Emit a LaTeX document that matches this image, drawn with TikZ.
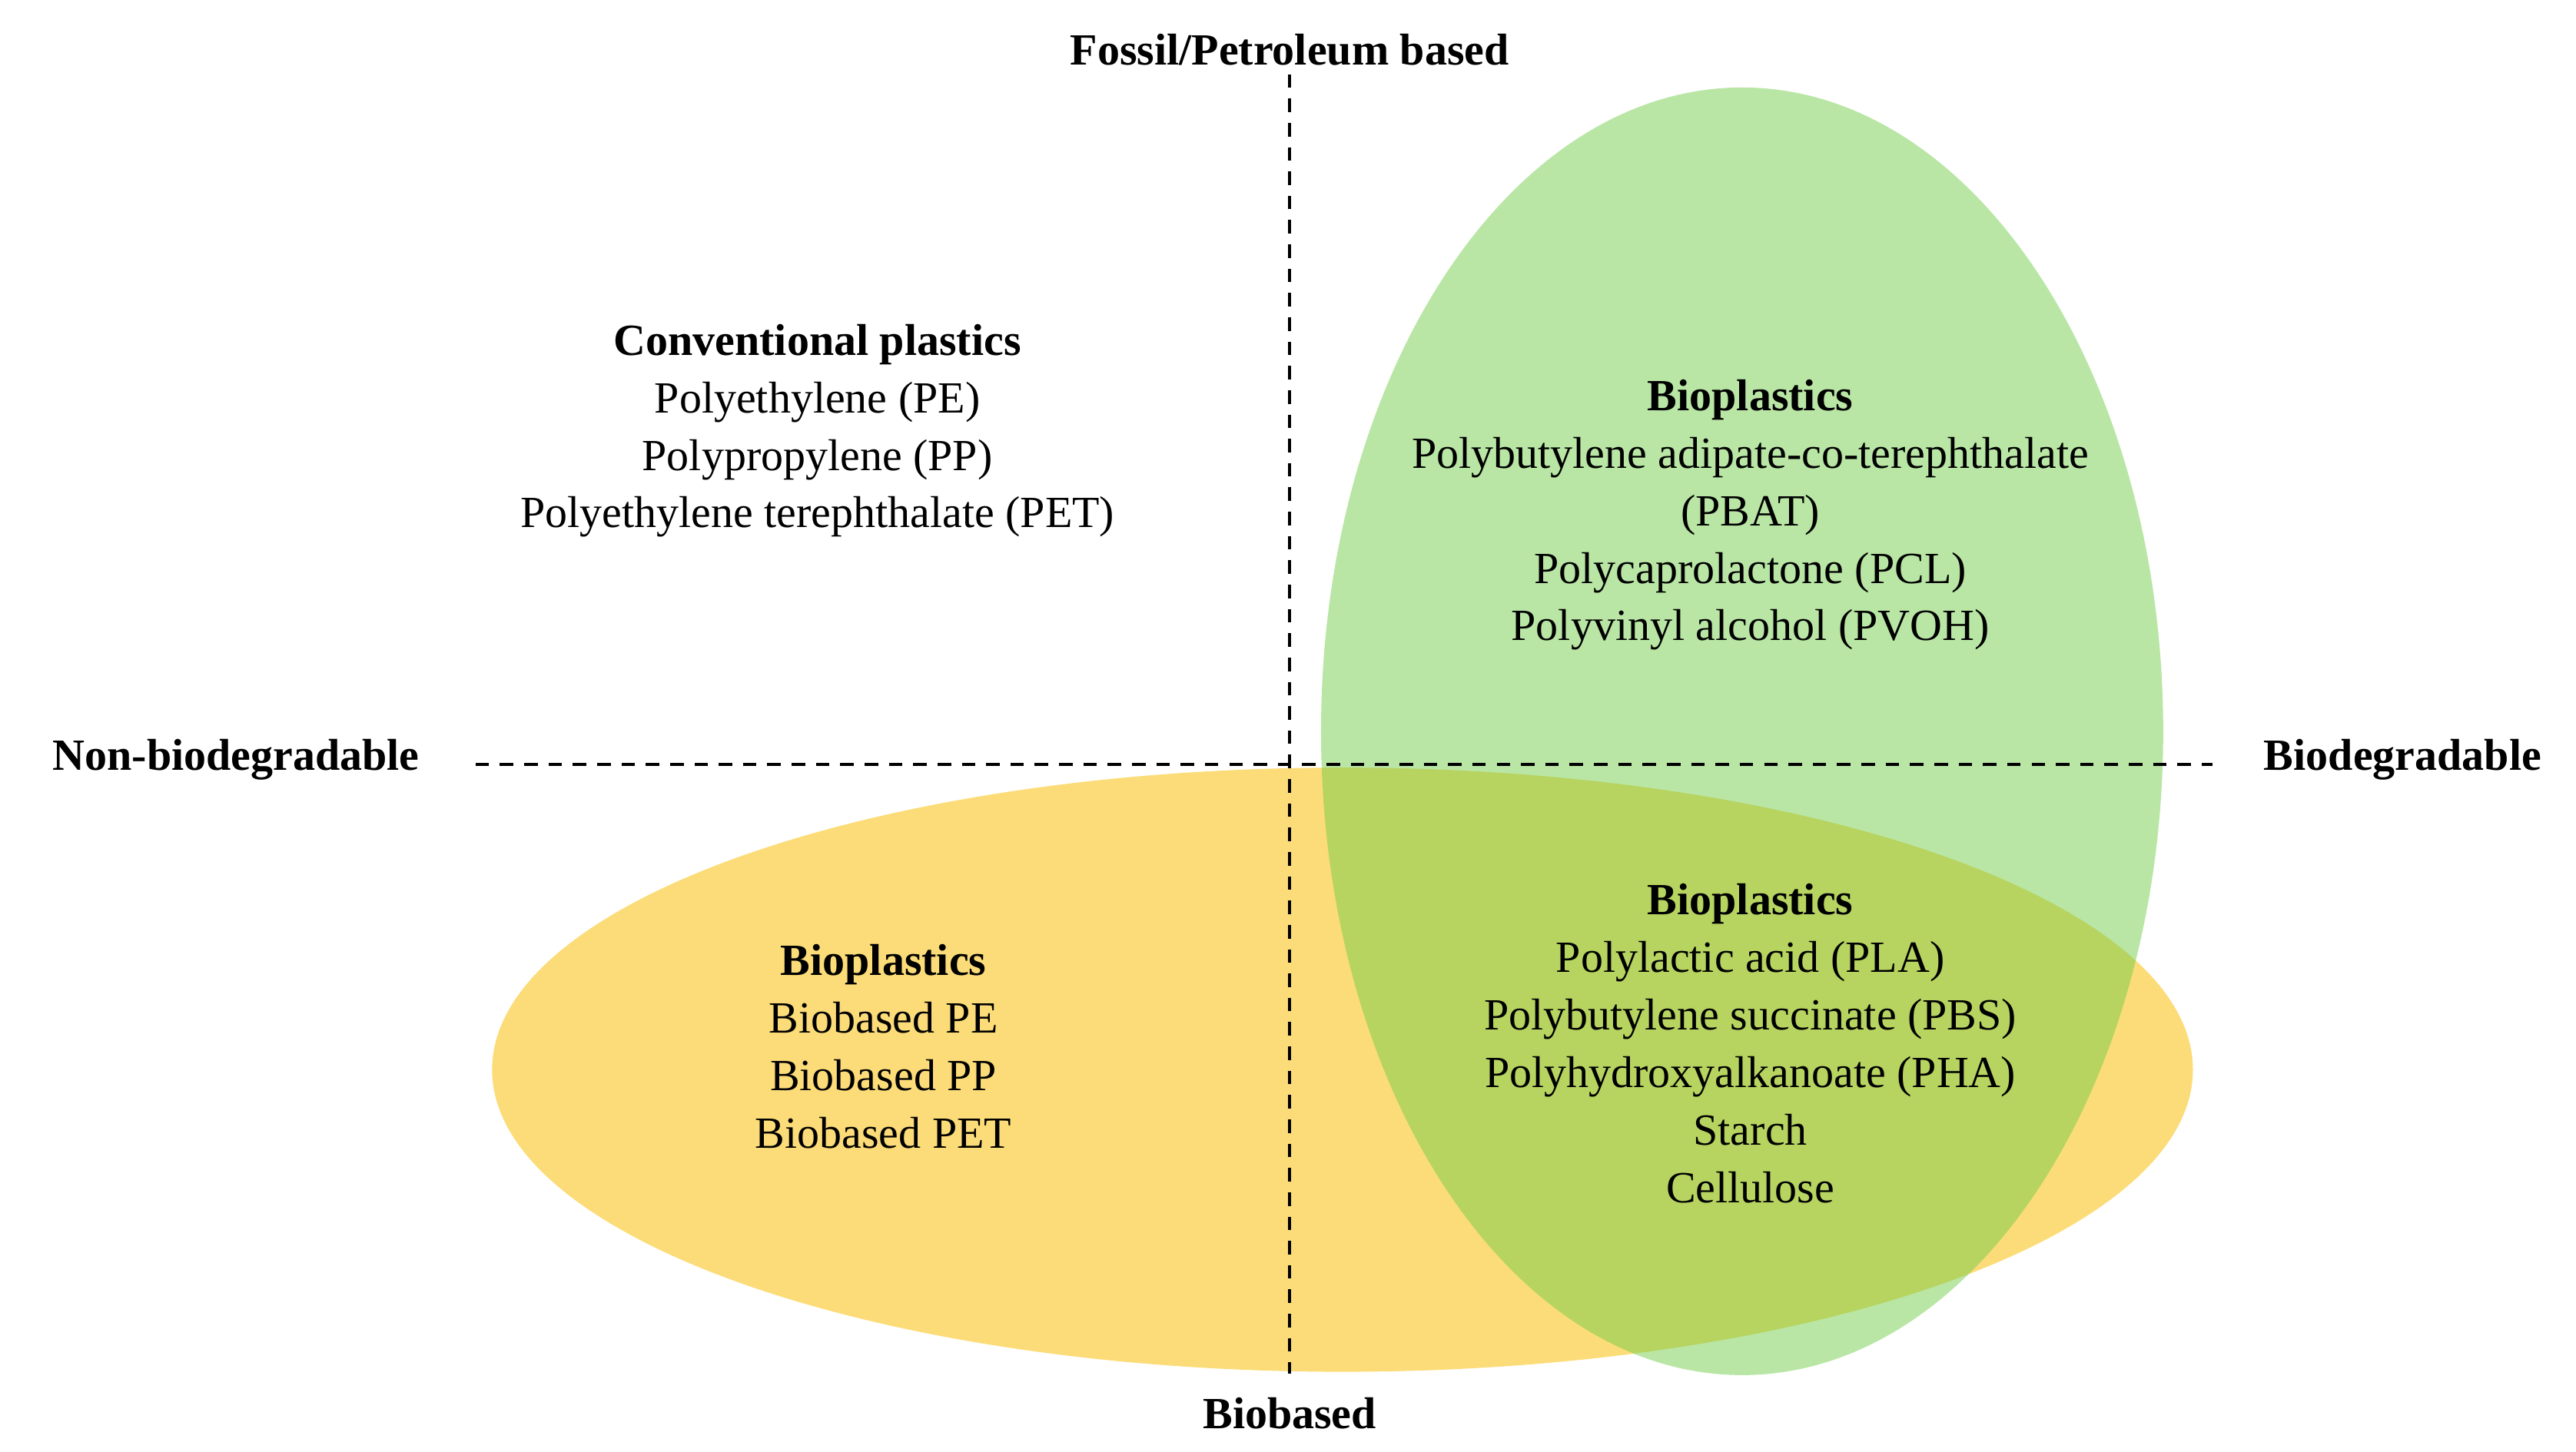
\documentclass[tikz,border=0pt]{standalone}
\usepackage{fontspec}
\setmainfont{Liberation Serif}
\definecolor{gfill}{RGB}{115,205,75}
\definecolor{yfill}{RGB}{252,220,120}
\begin{document}
\begin{tikzpicture}[x=0.02149cm,y=-0.02149cm,
  txt/.style={align=center,inner sep=0pt,font=\fontsize{16.5pt}{21.3pt}\selectfont},
  axisline/.style={line width=1.2pt,dash pattern=on 5pt off 4pt}]
\useasboundingbox (0,0) rectangle (1560,879.5);
\fill[yfill] (813,648) ellipse [x radius=515, y radius=183];
\fill[gfill,fill opacity=0.5] (1055,443) ellipse [x radius=255, y radius=390];
\coordinate (vt) at (781,45); \coordinate (vb) at (781,832);
\coordinate (hl) at (288,463); \coordinate (hr) at (1340,463);
\draw[axisline] (vt) -- (vb);
\draw[axisline] (hl) -- (hr);
\node[txt,font=\fontsize{16.5pt}{21.3pt}\selectfont\bfseries] (top) at (781,30) {Fossil/Petroleum based};
\node[txt,font=\fontsize{16.5pt}{21.3pt}\selectfont\bfseries] (bot) at (781,856) {Biobased};
\node[txt,font=\fontsize{16.5pt}{21.3pt}\selectfont\bfseries] (left) at (143,460) {Non-biodegradable};
\node[txt,font=\fontsize{16.5pt}{21.3pt}\selectfont\bfseries] (right) at (1455,460) {Biodegradable};
\node[txt] (conv) at (495,261) {\textbf{Conventional plastics}\\Polyethylene (PE)\\Polypropylene (PP)\\Polyethylene terephthalate (PET)};
\node[txt] (bio1) at (1060,312) {\textbf{Bioplastics}\\Polybutylene adipate-co-terephthalate\\(PBAT)\\Polycaprolactone (PCL)\\Polyvinyl alcohol (PVOH)};
\node[txt] (bio2) at (535,634) {\textbf{Bioplastics}\\Biobased PE\\Biobased PP\\Biobased PET};
\node[txt] (bio3) at (1060,632) {\textbf{Bioplastics}\\Polylactic acid (PLA)\\Polybutylene succinate (PBS)\\Polyhydroxyalkanoate (PHA)\\Starch\\Cellulose};
\end{tikzpicture}
\end{document}
